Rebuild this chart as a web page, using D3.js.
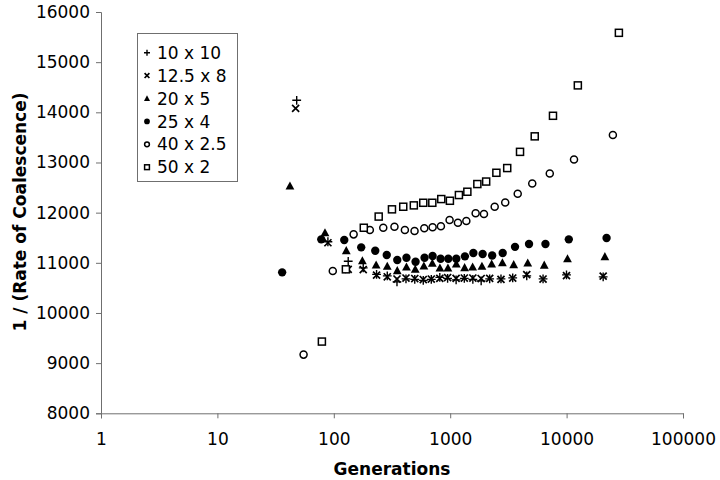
<!DOCTYPE html>
<html><head><meta charset="utf-8">
<script src="https://cdn.jsdelivr.net/npm/d3@7"></script>
<style>body{margin:0;background:#fff}svg{display:block}text{font-family:"DejaVu Sans",Verdana,sans-serif}</style>
</head><body><svg id="c" width="720" height="480"></svg>
<script>
// ---- data ----
const legendLabels = ["10 x 10","12.5 x 8","20 x 5","25 x 4","40 x 2.5","50 x 2"];
const xTicks = [1,10,100,1000,10000,100000];
const yTicks = [8000,9000,10000,11000,12000,13000,14000,15000,16000];

const gens10x10 = [48,89,133,179,233,288,349,417,496,587,688,814,950,1124,1322,1565,1845,2183,2731,3444,4546,6277,9980,20613];
const vals10x10 = [14240,11420,11030,10900,10770,10740,10620,10680,10670,10650,10670,10710,10690,10660,10690,10670,10640,10680,10680,10700,10740,10680,10760,10720];

const gens12x8 = [47,89,133,179,233,288,349,417,496,587,688,814,950,1124,1322,1565,1845,2183,2731,3444,4546,6277,9980,20613];
const vals12x8 = [14080,11400,10870,10866,10756,10722,10677,10697,10687,10667,10677,10690,10707,10690,10697,10697,10687,10690,10669,10697,10766,10677,10746,10736];

const gens20x5 = [42,84,128,176,231,288,351,421,501,594,702,816,956,1128,1330,1559,1874,2271,2808,3512,4636,6428,10179,21320];
const vals20x5 = [12530,11599,11241,11041,10956,10930,10842,10916,10870,10936,10990,10896,10896,10976,10902,10916,10930,10976,11001,10962,10996,10952,11081,11121];

const gens25x4 = [36,78,123,172,227,285,351,421,504,602,706,827,963,1128,1338,1581,1900,2294,2824,3605,4756,6582,10445,22050];
const vals25x4 = [10810,11468,11454,11308,11241,11155,11055,11101,11021,11101,11135,11081,11081,11081,11129,11195,11175,11145,11195,11318,11374,11374,11468,11494];

const gens40x2 = [55,98,148,204,266,332,408,494,599,706,832,988,1165,1376,1654,1950,2411,2969,3802,5068,7168,11580,24980];
const vals40x2 = [9170,10836,11567,11653,11699,11719,11653,11633,11687,11707,11727,11852,11799,11833,11986,11972,12118,12201,12377,12580,12779,13058,13547];

const gens50x2 = [79,127,181,243,316,395,487,587,702,838,994,1188,1404,1711,2037,2493,3089,3980,5324,7638,12490,28130];
const vals50x2 = [9430,10870,11699,11922,12066,12118,12145,12197,12197,12271,12237,12351,12417,12570,12620,12795,12889,13212,13521,13931,14537,15585];

// ---- chart ----
const svg = d3.select("#c");
const x = d3.scaleLog().domain([1,100000]).range([101,683]);
const y = d3.scaleLinear().domain([8000,16000]).range([413.3,12]);
const axisColor = "#6f6f6f";

const series = [
  {name:legendLabels[0], g:gens10x10, v:vals10x10, shape:"plus"},
  {name:legendLabels[1], g:gens12x8, v:vals12x8, shape:"cross"},
  {name:legendLabels[2], g:gens20x5, v:vals20x5, shape:"tri"},
  {name:legendLabels[3], g:gens25x4, v:vals25x4, shape:"dot"},
  {name:legendLabels[4], g:gens40x2, v:vals40x2, shape:"ring"},
  {name:legendLabels[5], g:gens50x2, v:vals50x2, shape:"square"}
];

function drawMarker(sel, shape, s){
  if(shape==="plus"){
    sel.append("path").attr("d",`M${-s},0H${s}M0,${-s}V${s}`).attr("stroke","#000").attr("stroke-width",1.4).attr("fill","none");
  } else if(shape==="cross"){
    const k=s*0.8;
    sel.append("path").attr("d",`M${-k},${-k}L${k},${k}M${-k},${k}L${k},${-k}`).attr("stroke","#000").attr("stroke-width",1.7).attr("fill","none");
  } else if(shape==="tri"){
    sel.append("path").attr("d",`M0,${-s*1.05}L${s},${s*0.8}L${-s},${s*0.8}Z`).attr("fill","#000");
  } else if(shape==="dot"){
    sel.append("circle").attr("r",s*0.95).attr("fill","#000");
  } else if(shape==="ring"){
    sel.append("circle").attr("r",s*0.8).attr("fill","#fff").attr("stroke","#000").attr("stroke-width",1.5);
  } else if(shape==="square"){
    sel.append("rect").attr("x",-s*0.8).attr("y",-s*0.8).attr("width",s*1.6).attr("height",s*1.6).attr("fill","#fff").attr("stroke","#000").attr("stroke-width",1.5);
  }
}

// axes
const yAxis = d3.axisLeft(y).tickValues(yTicks).tickSize(5).tickFormat(d3.format("d"));
const gy = svg.append("g").attr("transform","translate(101,0)").call(yAxis);
gy.select(".domain").attr("stroke",axisColor);
gy.selectAll(".tick line").attr("stroke",axisColor);
gy.selectAll(".tick text").attr("font-size",17).attr("fill","#000").attr("x",-11);

const xAxis = d3.axisBottom(x).tickValues(xTicks).tickSize(5).tickFormat(d3.format("d"));
const gx = svg.append("g").attr("transform","translate(0,413.3)").call(xAxis);
gx.select(".domain").attr("stroke",axisColor);
gx.selectAll(".tick line").attr("stroke",axisColor);
gx.selectAll(".tick text").attr("font-size",17).attr("fill","#000").attr("y",20);

svg.append("text").attr("x",392).attr("y",475).attr("text-anchor","middle")
  .attr("font-size",17).attr("font-weight","bold").text("Generations");
svg.append("text").attr("transform","translate(26,212) rotate(-90)").attr("text-anchor","middle")
  .attr("font-size",17).attr("font-weight","bold").text("1 / (Rate of Coalescence)");

// points
series.forEach(s=>{
  const gg = svg.append("g");
  s.g.forEach((gv,i)=>{
    const m = gg.append("g").attr("transform",`translate(${x(gv)},${y(s.v[i])})`);
    drawMarker(m, s.shape, 4.4);
  });
});

// legend
const lg = svg.append("g");
lg.append("rect").attr("x",137.5).attr("y",33.5).attr("width",100).attr("height",148)
  .attr("fill","#fff").attr("stroke",axisColor).attr("stroke-width",1);
series.forEach((s,i)=>{
  const yy = 52.7 + i*22.9;
  const m = lg.append("g").attr("transform",`translate(147,${yy})`);
  drawMarker(m, s.shape, 3);
  lg.append("text").attr("x",157).attr("y",yy).attr("dy","0.36em").attr("font-size",17).text(s.name);
});
</script>
</body></html>
